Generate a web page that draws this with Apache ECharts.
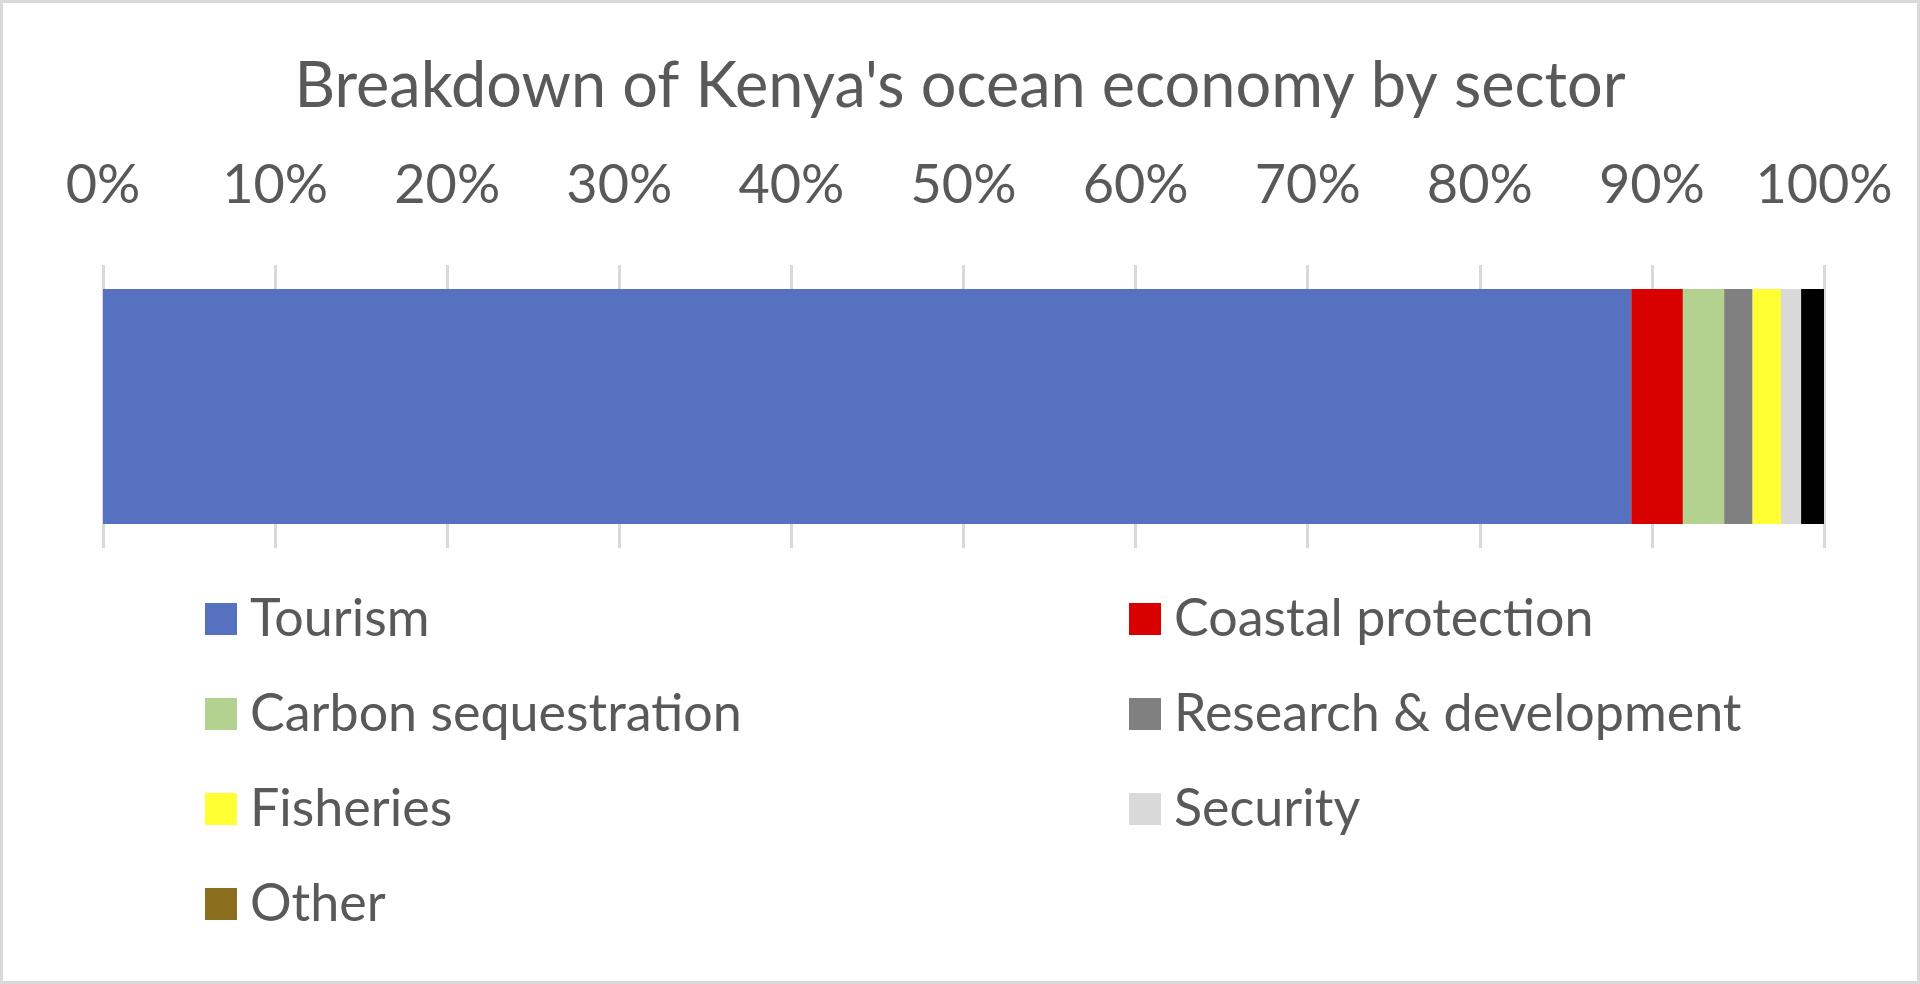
<!DOCTYPE html>
<html>
<head>
<meta charset="utf-8">
<script src="https://cdn.jsdelivr.net/npm/echarts@6/dist/echarts.min.js"></script>
<style>
  html, body { margin: 0; padding: 0; background: #fff; }
  #main { width: 1920px; height: 984px; }
</style>
</head>
<body>
<div id="main"></div>
<script>
// data (share of ocean economy, %)
var sectors = ['Tourism', 'Coastal protection', 'Carbon sequestration', 'Research & development', 'Fisheries', 'Security', 'Other'];
var shares = [88.8, 3.0, 2.4, 1.65, 1.65, 1.17, 1.33];
var colors = ['#5571C0', '#D90000', '#B3D18F', '#808080', '#FFFF33', '#D9D9D9', '#000000'];
var tickValues = [0, 10, 20, 30, 40, 50, 60, 70, 80, 90, 100];

var textColor = '#595959';
var fontName = 'Lato';

var myChart = echarts.init(document.getElementById('main'));

var series = sectors.map(function (name, i) {
    return {
        name: name,
        type: 'bar',
        stack: 'total',
        barWidth: '83%',
        itemStyle: { color: colors[i] },
        data: [shares[i]]
    };
});

// legend icons: "Other" shows brown in the legend of the original
function legendItem(name) {
    if (name === 'Other') return { name: name, itemStyle: { color: '#8B6F1E' } };
    return name;
}

var legendBase = {
    orient: 'vertical',
    top: 593,
    padding: 0,
    itemWidth: 32,
    itemHeight: 32,
    itemGap: 43,
    icon: 'rect',
    textStyle: { fontFamily: fontName, fontSize: 52, color: textColor, padding: [0, 0, 0, 8] }
};

option = {
    backgroundColor: '#fff',
    animation: false,
    title: {
        text: "Breakdown of Kenya's ocean economy by sector",
        left: 'center',
        top: 50,
        textStyle: { fontFamily: fontName, fontSize: 63, fontWeight: 'normal', color: textColor }
    },
    graphic: [{
        type: 'rect',
        shape: { x: 1.5, y: 1.5, width: 1917, height: 981 },
        style: { fill: null, stroke: '#D9D9D9', lineWidth: 3 },
        silent: true
    }],
    legend: [
        Object.assign({}, legendBase, {
            left: 205,
            data: [sectors[0], sectors[2], sectors[4], sectors[6]].map(legendItem)
        }),
        Object.assign({}, legendBase, {
            left: 1129,
            data: [sectors[1], sectors[3], sectors[5]].map(legendItem)
        })
    ],
    grid: {
        left: 103,
        right: 96,
        top: 265,
        height: 283
    },
    xAxis: {
        type: 'value',
        position: 'top',
        min: tickValues[0],
        max: tickValues[tickValues.length - 1],
        interval: tickValues[1] - tickValues[0],
        axisLine: { show: false },
        axisTick: { show: false },
        splitLine: { show: true, lineStyle: { color: '#D9D9D9', width: 3 } },
        axisLabel: {
            margin: 52,
            fontFamily: fontName,
            fontSize: 54,
            color: textColor,
            formatter: '{value}%'
        }
    },
    yAxis: {
        type: 'category',
        data: [''],
        axisLine: { show: false },
        axisTick: { show: false },
        axisLabel: { show: false }
    },
    series: series
};

myChart.setOption(option);
</script>
</body>
</html>
